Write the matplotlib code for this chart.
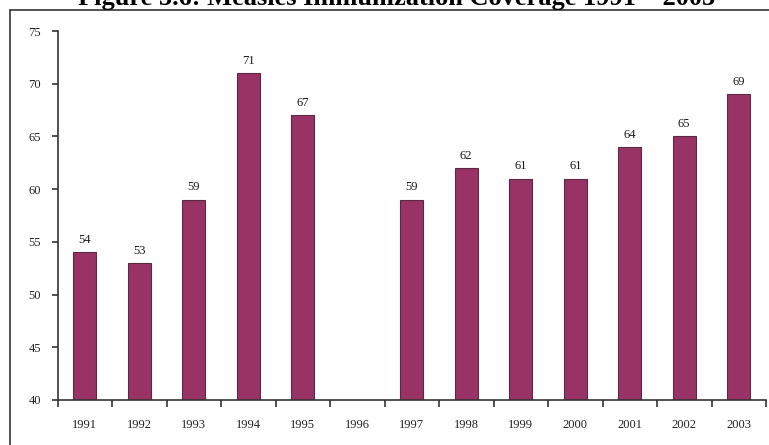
import matplotlib
matplotlib.use("Agg")
import matplotlib.pyplot as plt
import numpy as np
from matplotlib.patches import Rectangle

years = ["1991", "1992", "1993", "1994", "1995", "1996", "1997",
         "1998", "1999", "2000", "2001", "2002", "2003"]
coverage = [54, 53, 59, 71, 67, np.nan, 59, 62, 61, 61, 64, 65, 69]
title = "Figure 5.6: Measles Immunization Coverage 1991 \u2013 2003"

fig = plt.figure(figsize=(7.69, 4.45), dpi=100)
fig.patch.set_facecolor("white")

# outer frame (bottom/right extend past the image)
fig.add_artist(Rectangle((10 / 769, -0.1), 1.2, (445 - 10.5) / 445 + 0.1,
                         transform=fig.transFigure, fill=False,
                         edgecolor="#333333", linewidth=1.2))

fig.text(397 / 769, 1 - 4.5 / 445, title, ha="center", va="baseline",
         fontsize=19, fontweight="bold", family="Liberation Serif", color="black",
         transform=fig.transFigure)

ax = fig.add_axes([57.5 / 769, (445 - 400) / 445, (766 - 57.5) / 769, (400 - 31) / 445])
x = np.arange(len(years))
vals = np.array(coverage, dtype=float)
bars = ax.bar(x, vals - 40, bottom=40, width=0.42, color="#993366",
              edgecolor="#5a2a42", linewidth=0.8)
for xi, v in zip(x, vals):
    if not np.isnan(v):
        ax.text(xi, v + 0.6, f"{int(v)}", ha="center", va="bottom",
                fontsize=9, family="Liberation Serif", color="#1a1a1a")

ax.set_xlim(-0.5, len(years) - 0.5)
ax.set_ylim(40, 75)
ax.set_yticks(np.arange(40, 76, 5))
ax.set_yticklabels([str(t) for t in range(40, 76, 5)], family="Liberation Serif",
                   fontsize=9, color="#222222")
ax.set_xticks(x)
ax.set_xticklabels(years, family="Liberation Serif", fontsize=9, color="#222222")
ax.set_xticks(np.arange(-0.5, len(years)), minor=True)
ax.tick_params(axis="x", which="major", length=0, pad=14)
ax.tick_params(axis="x", which="minor", length=5, width=1.2, color="#333333", direction="out")
ax.tick_params(axis="y", length=4, width=1.2, color="#333333", direction="out", pad=8)

for s in ["top", "right"]:
    ax.spines[s].set_visible(False)
for s in ["left", "bottom"]:
    ax.spines[s].set_color("#333333")
    ax.spines[s].set_linewidth(1.2)

fig.savefig("out.png", dpi=100)
